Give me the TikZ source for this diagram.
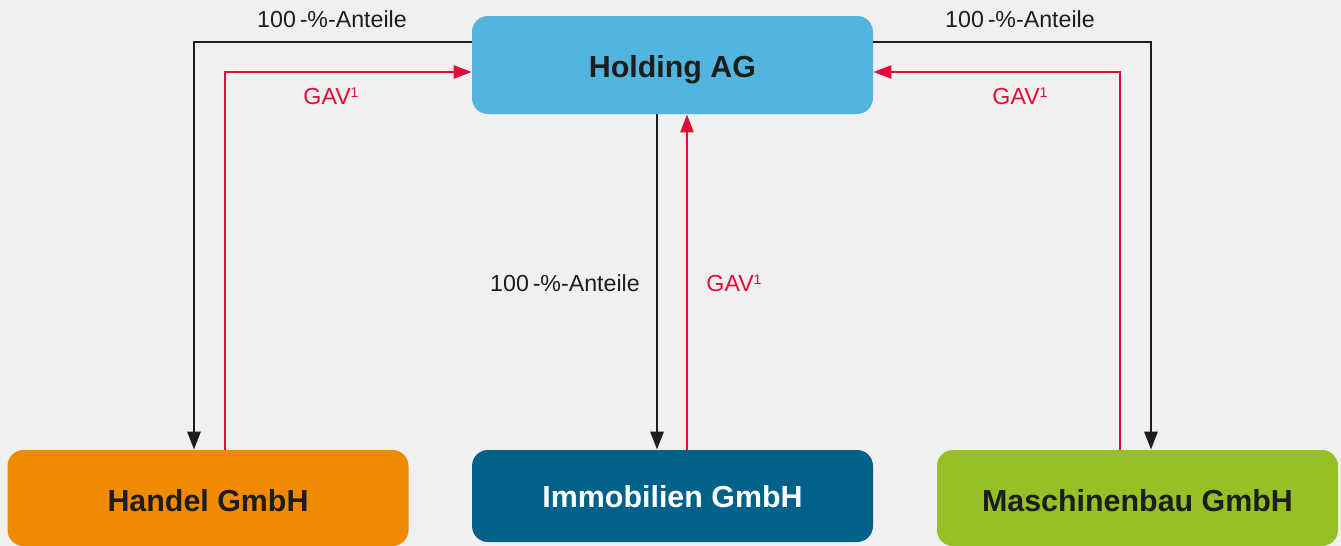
\documentclass[tikz,border=0pt]{standalone}
\usepackage{fontspec}
\setmainfont{Liberation Sans}
\usetikzlibrary{arrows.meta}
\definecolor{bgc}{HTML}{F0F0F0}
\definecolor{holdc}{HTML}{52B5E0}
\definecolor{handc}{HTML}{F08A00}
\definecolor{immoc}{HTML}{00628B}
\definecolor{maschc}{HTML}{97BF26}
\definecolor{redc}{HTML}{E30B3A}
\definecolor{darkc}{HTML}{1D1D1B}
\tikzset{
  box/.style={rounded corners=8pt, minimum width=200.5pt, minimum height=48pt, inner sep=0pt,
    font=\fontsize{15.2}{18}\selectfont\bfseries, text=darkc},
  blk/.style={draw=darkc, line width=1.4pt, -{Triangle[length=9pt,width=6.5pt]}},
  redl/.style={draw=redc, line width=1.2pt, -{Triangle[length=9pt,width=6.5pt]}},
  lbl/.style={font=\fontsize{11.6}{14}\selectfont, text=darkc, inner sep=0pt},
  rlbl/.style={font=\fontsize{11.6}{14}\selectfont, text=redc, inner sep=0pt}
}
\newcommand{\supone}{\raisebox{0.55ex}{\fontsize{7}{8}\selectfont 1}}
\begin{document}
\begin{tikzpicture}[x=0.5pt,y=-0.5pt]
\fill[bgc] (0,0) rectangle (1341,546);
\useasboundingbox (0,0) rectangle (1341,546);
\node[box, fill=holdc, minimum height=49pt] (holding) at (672.5,65) {};
\node[box, fill=handc] (handel) at (208,498) {};
\node[box, fill=immoc, minimum height=46pt] (immob) at (672.5,496) {};
\node[box, fill=maschc] (masch) at (1137.5,498) {};
\node[box, minimum width=0pt, minimum height=0pt] (tholding) at (672.5,70) {Holding AG};
\node[box, minimum width=0pt, minimum height=0pt] (thandel) at (208,501) {Handel GmbH};
\node[box, minimum width=0pt, minimum height=0pt, text=white] (timmob) at (672.5,497) {Immobilien GmbH};
\node[box, minimum width=0pt, minimum height=0pt] (tmasch) at (1137.5,501) {Maschinenbau GmbH};
% left
\draw[blk] ([yshift=11.5pt]holding.west) -| ([xshift=-7pt]handel.north);
\draw[redl] ([xshift=8.5pt]handel.north) |- ([yshift=-3.5pt]holding.west);
% middle
\draw[blk] ([xshift=-7.75pt]holding.south) -- ([xshift=-7.75pt]immob.north);
\draw[redl] ([xshift=7.25pt]immob.north) -- ([xshift=7.25pt]holding.south);
% right
\draw[blk] ([yshift=11.5pt]holding.east) -| ([xshift=6.75pt]masch.north);
\draw[redl] ([xshift=-8.75pt]masch.north) |- ([yshift=-3.5pt]holding.east);
% labels
\node[lbl] (l1) at (332,19) {100\,-\%-Anteile};
\node[lbl] (l2) at (1020,19) {100\,-\%-Anteile};
\node[lbl] (l3) at (565,283) {100\,-\%-Anteile};
\node[rlbl] (g1) at (331,96) {GAV\supone};
\node[rlbl] (g2) at (1020,96) {GAV\supone};
\node[rlbl] (g3) at (734,283) {GAV\supone};
\end{tikzpicture}
\end{document}
